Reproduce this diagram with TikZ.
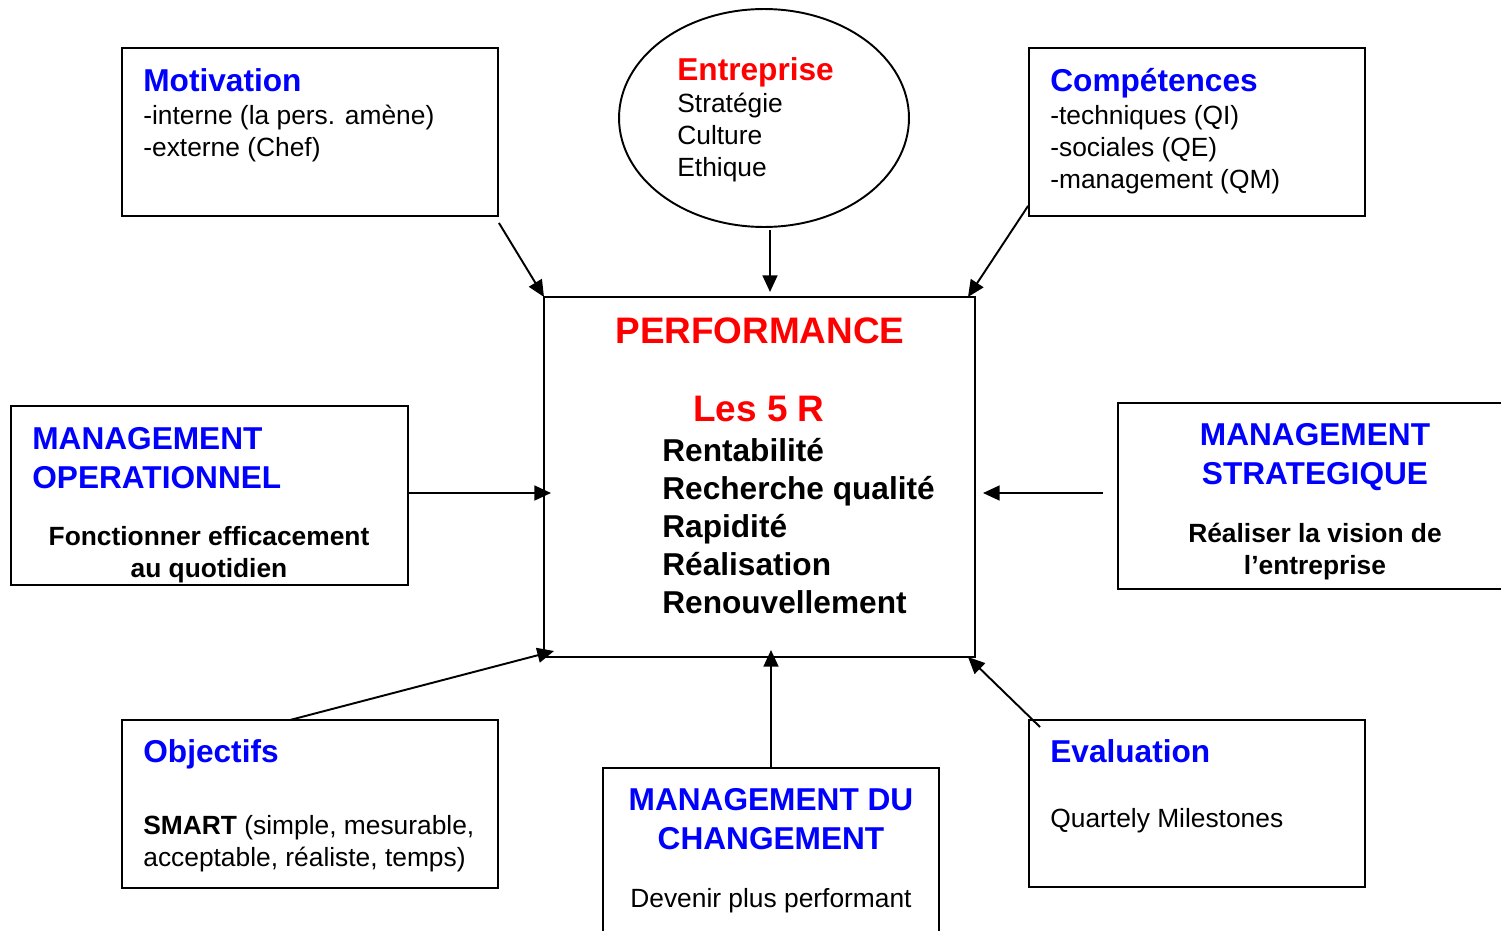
\documentclass[tikz,border=0pt]{standalone}
\usepackage{fontspec}
\setmainfont{Liberation Sans}
\usetikzlibrary{arrows.meta,calc,shapes.geometric}
\definecolor{tblue}{RGB}{0,0,255}
\definecolor{tred}{RGB}{255,0,0}
\tikzset{
  box/.style={draw, line width=1.1pt, rectangle, inner sep=0pt},
  oval/.style={draw, line width=1.1pt, ellipse, inner sep=0pt},
  conn/.style={line width=1.1pt, -{Triangle[length=9.5pt,width=8.5pt]}},
  txt/.style={inner sep=0pt, anchor=base west, align=left, font=\fontsize{15}{18.2}\selectfont},
  ctxt/.style={inner sep=0pt, anchor=base, align=center, font=\fontsize{15}{18.2}\selectfont},
  btxt/.style={inner sep=0pt, anchor=base, align=center, font=\fontsize{15}{18.2}\selectfont\bfseries},
  head/.style={inner sep=0pt, anchor=base west, align=left, text=tblue, font=\fontsize{18}{22}\selectfont\bfseries},
  chead/.style={inner sep=0pt, anchor=base, align=center, text=tblue, font=\fontsize{18}{21.9}\selectfont\bfseries},
}
\begin{document}
\begin{tikzpicture}[x=0.02cm,y=-0.02cm]
\useasboundingbox[fill=white] (0,0) rectangle (1501,930);
\clip (0,0) rectangle (1501,930);
% boxes
\node[box, minimum width=7.52cm, minimum height=3.36cm] (mot) at (310,132) {};
\node[oval, minimum width=5.8cm, minimum height=4.36cm] (ent) at (764,118) {};
\node[box, minimum width=6.72cm, minimum height=3.36cm] (comp) at (1197,132) {};
\node[box, minimum width=8.62cm, minimum height=7.2cm] (perf) at (759.5,477) {};
\node[box, minimum width=7.94cm, minimum height=3.58cm] (mo) at (209.5,495.5) {};
\node[box, minimum width=8.04cm, minimum height=3.72cm] (ms) at (1319,496) {};
\node[box, minimum width=7.52cm, minimum height=3.36cm] (obj) at (310,804) {};
\node[box, minimum width=6.72cm, minimum height=3.64cm] (mdc) at (771,859) {};
\node[box, minimum width=6.72cm, minimum height=3.34cm] (eval) at (1197,803.5) {};
% texts (multi-line nodes: base = baseline of last line)
\node[head] (motT) at (143,91) {Motivation};
\node[txt] (motB) at (143,156) {-interne (la pers. amène)\\-externe (Chef)};
\node[head, text=tred] (entT) at (677,80) {Entreprise};
\node[txt] (entB) at (677,176) {Stratégie\\Culture\\Ethique};
\node[head] (compT) at (1050,91) {Compétences};
\node[txt] (compB) at (1050,188) {-techniques (QI)\\-sociales (QE)\\-management (QM)};
\node[inner sep=0pt, anchor=base, text=tred, font=\fontsize{21}{25}\selectfont\bfseries] (perfT) at (760,343) {PERFORMANCE};
\node[inner sep=0pt, anchor=base, text=tred, font=\fontsize{21}{25}\selectfont\bfseries] (perfR) at (759,421) {Les 5 R};
\node[inner sep=0pt, anchor=base west, align=left, font=\fontsize{18}{21.6}\selectfont\bfseries] (perfL) at (662,613) {Rentabilité\\Recherche qualité\\Rapidité\\Réalisation\\Renouvellement};
\node[head, font=\fontsize{18}{22.2}\selectfont\bfseries] (moT) at (32,488) {MANAGEMENT\\OPERATIONNEL};
\node[btxt] (moB) at (209,577) {Fonctionner efficacement\\au quotidien};
\node[chead] (msT) at (1315,484) {MANAGEMENT\\STRATEGIQUE};
\node[btxt] (msB) at (1315,574) {Réaliser la vision de\\l’entreprise};
\node[head] (objT) at (143,762) {Objectifs};
\node[txt] (objB) at (143,866) {\textbf{SMART} (simple, mesurable,\\acceptable, réaliste, temps)};
\node[chead] (mdcT) at (771,849) {MANAGEMENT DU\\CHANGEMENT};
\node[ctxt] (mdcB) at (771,907) {Devenir plus performant};
\node[head] (evalT) at (1050,762) {Evaluation};
\node[txt] (evalB) at (1050,827) {Quartely Milestones};
% connectors
\coordinate (motS) at ($(mot.south east)+(0,6)$);
\coordinate (entS) at (770,230);
\coordinate (compS) at ($(comp.south west)+(0,-11)$);
\coordinate (msS) at (1103,493);
\coordinate (objS) at (290,720);
\coordinate (evalS) at (1040,727);
\coordinate (pMot) at (544,297);
\coordinate (pEnt) at (770,292);
\coordinate (pComp) at (968,297);
\coordinate (pMo) at (551,493);
\coordinate (pMs) at (983,493);
\coordinate (pObj) at (554,651);
\coordinate (pMdc) at (771,650);
\coordinate (pEval) at (968,657);
\draw[conn] (motS) -- (pMot);
\draw[conn] (entS) -- (pEnt);
\draw[conn] (compS) -- (pComp);
\draw[conn] (mo.east |- pMo) -- (pMo);
\draw[conn] (msS) -- (pMs);
\draw[conn] (objS) -- (pObj);
\draw[conn] (mdc.north) -- (pMdc);
\draw[conn] (evalS) -- (pEval);
\end{tikzpicture}
\end{document}
